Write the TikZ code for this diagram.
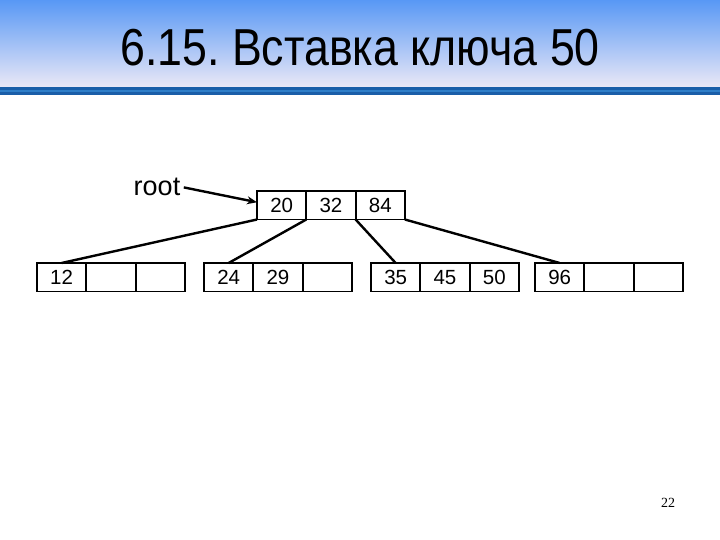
\documentclass[tikz,border=0pt]{standalone}
\usepackage{graphicx}
\usepackage{fontspec}
\setmainfont{Liberation Sans}
\newfontfamily\numfont{Liberation Serif}
\usetikzlibrary{positioning,arrows.meta}
\definecolor{headtop}{RGB}{88,152,245}
\definecolor{headmid}{RGB}{140,186,238}
\definecolor{headbot}{RGB}{234,232,246}
\definecolor{band}{RGB}{26,94,168}
\definecolor{bandlight}{RGB}{46,126,200}
\frenchspacing

\begin{document}
\begin{tikzpicture}[x=1bp,y=-1bp,
  cell/.style={draw,line width=1.8bp,minimum width=49.3bp,minimum height=28.5bp,
    inner sep=0pt,outer sep=0pt,font=\fontsize{20.5bp}{24bp}\selectfont},
  link/.style={line width=2.4bp}]

\useasboundingbox (0,0) rectangle (720,540);

% header bar
\shade[top color=headtop,middle color=headmid,bottom color=headbot] (0,0) rectangle (720,87);
\fill[band] (0,87) rectangle (720,95);
\fill[bandlight] (0,90) rectangle (720,92);
\node (title) at (360,48) {\fontsize{52bp}{60bp}\selectfont\scalebox{0.86}[1]{6.15. Вставка ключа 50}};

% root page
\node[cell,anchor=north west] (r1) at (257,191) {20};
\node[cell,right=0pt of r1] (r2) {32};
\node[cell,right=0pt of r2] (r3) {84};

% leaf pages
\node[cell,anchor=north west] (a1) at (37,263) {12};
\node[cell,right=0pt of a1] (a2) {};
\node[cell,right=0pt of a2] (a3) {};

\node[cell,anchor=north west] (b1) at (204,263) {24};
\node[cell,right=0pt of b1] (b2) {29};
\node[cell,right=0pt of b2] (b3) {};

\node[cell,anchor=north west] (c1) at (371,263) {35};
\node[cell,right=0pt of c1] (c2) {45};
\node[cell,right=0pt of c2] (c3) {50};

\node[cell,anchor=north west] (d1) at (535,263) {96};
\node[cell,right=0pt of d1] (d2) {};
\node[cell,right=0pt of d2] (d3) {};

\draw[link] (r1.south west) -- (a1.north);
\draw[link] (r2.south west) -- (b1.north);
\draw[link] (r3.south west) -- (c1.north);
\draw[link] (r3.south east) -- (d1.north);

\node[anchor=base,font=\fontsize{27bp}{32bp}\selectfont] (rootlbl) at (157,196) {root};
\draw[link,-{Stealth[length=10bp,width=8bp]}] (rootlbl.east) -- ([yshift=3bp]r1.west);

\node[font=\numfont\fontsize{14bp}{16bp}\selectfont] (pagenum) at (668,503) {22};

\end{tikzpicture}
\end{document}
